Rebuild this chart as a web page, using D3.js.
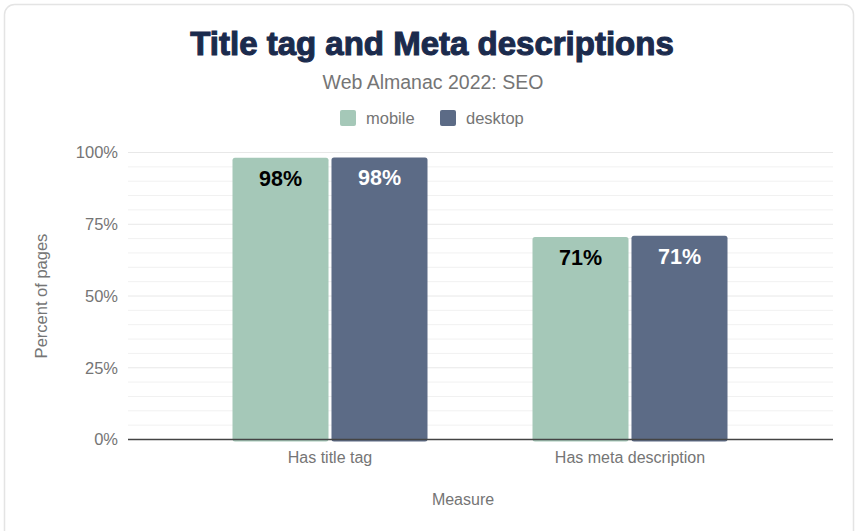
<!DOCTYPE html>
<html>
<head>
<meta charset="utf-8">
<script src="https://cdn.jsdelivr.net/npm/d3@7"></script>
<style>
  body { margin: 0; background: #fff; }
  svg { display: block; font-family: "Liberation Sans", Arial, sans-serif; }
</style>
</head>
<body>
<div id="chart"></div>
<script>
// data
const categories = ["Has title tag", "Has meta description"];
const seriesNames = ["mobile", "desktop"];
const mobileValues = [98.2, 70.6];
const desktopValues = [98.3, 71.0];
const yTicks = [0, 25, 50, 75, 100];

const colors = { mobile: "#a5c8b8", desktop: "#5c6b86" };
const labelColors = { mobile: "#000", desktop: "#fff" };

const W = 859, H = 531;
const margin = { top: 152.5, left: 128, right: 26, bottom: 91.5 };

const svg = d3.select("#chart").append("svg")
  .attr("width", W)
  .attr("height", H);

// card outline
svg.append("rect")
  .attr("x", 4.5).attr("y", 4.5)
  .attr("width", 849).attr("height", 600)
  .attr("rx", 10)
  .attr("fill", "#fff")
  .attr("stroke", "#e4e4e4")
  .attr("stroke-width", 1.5);

// titles (stroke makes the bold look heavier, like the original)
svg.append("text")
  .attr("x", 432).attr("y", 55)
  .attr("text-anchor", "middle")
  .attr("font-size", 33)
  .attr("font-weight", "bold")
  .attr("fill", "#1b2b4d")
  .attr("stroke", "#1b2b4d")
  .attr("stroke-width", 1.1)
  .text("Title tag and Meta descriptions");

svg.append("text")
  .attr("x", 433).attr("y", 89)
  .attr("text-anchor", "middle")
  .attr("font-size", 19.5)
  .attr("fill", "#757575")
  .text("Web Almanac 2022: SEO");

// legend
const legendX = [340, 440];
const legend = svg.append("g").attr("class", "legend");
seriesNames.forEach((s, i) => {
  legend.append("rect")
    .attr("x", legendX[i]).attr("y", 110)
    .attr("width", 16).attr("height", 16)
    .attr("rx", 2)
    .attr("fill", colors[s]);
  legend.append("text")
    .attr("x", legendX[i] + 26).attr("y", 124)
    .attr("font-size", 16.5)
    .attr("fill", "#757575")
    .text(s);
});

// scales
const x0 = d3.scaleBand()
  .domain(categories)
  .range([180, 780])
  .paddingInner(0.35)
  .paddingOuter(0.175);

const x1 = d3.scaleBand()
  .domain(seriesNames)
  .range([0, x0.bandwidth()])
  .paddingInner(0.03);

const y = d3.scaleLinear()
  .domain([0, 100])
  .range([H - margin.bottom, margin.top]);

// gridlines every 5%
const grid = svg.append("g").attr("class", "grid");
grid.selectAll("line")
  .data(d3.range(5, 101, 5))
  .join("line")
  .attr("x1", margin.left).attr("x2", W - margin.right)
  .attr("y1", d => y(d)).attr("y2", d => y(d))
  .attr("stroke", d => d % 25 === 0 ? "#e8e8e8" : "#f1f1f1")
  .attr("stroke-width", 1);

// y axis
const yAxis = svg.append("g")
  .attr("transform", `translate(${margin.left},0)`)
  .call(d3.axisLeft(y).tickValues(yTicks).tickFormat(d => d + "%").tickSize(0).tickPadding(10));
yAxis.select(".domain").remove();
yAxis.selectAll("text")
  .attr("font-size", 16.5)
  .attr("font-family", "Liberation Sans, Arial, sans-serif")
  .attr("fill", "#757575");

svg.append("text")
  .attr("transform", `translate(47,${y(50)}) rotate(-90)`)
  .attr("text-anchor", "middle")
  .attr("font-size", 16.5)
  .attr("fill", "#757575")
  .text("Percent of pages");

// bars
const rows = categories.map((c, i) => ({
  category: c,
  values: [
    { series: "mobile", value: mobileValues[i] },
    { series: "desktop", value: desktopValues[i] }
  ]
}));

const groups = svg.append("g").selectAll("g")
  .data(rows)
  .join("g")
  .attr("transform", d => `translate(${x0(d.category)},0)`);

groups.selectAll("rect")
  .data(d => d.values)
  .join("rect")
  .attr("x", d => x1(d.series))
  .attr("y", d => y(d.value))
  .attr("width", x1.bandwidth())
  .attr("height", d => y(0) - y(d.value) + 2)
  .attr("rx", 2.5)
  .attr("fill", d => colors[d.series]);

groups.selectAll("text")
  .data(d => d.values)
  .join("text")
  .attr("x", d => x1(d.series) + x1.bandwidth() / 2)
  .attr("y", d => y(d.value) + 28)
  .attr("text-anchor", "middle")
  .attr("font-size", 21.5)
  .attr("font-weight", "bold")
  .attr("fill", d => labelColors[d.series])
  .text(d => Math.round(d.value) + "%");

// baseline
svg.append("line")
  .attr("x1", margin.left).attr("x2", W - margin.right)
  .attr("y1", y(0)).attr("y2", y(0))
  .attr("stroke", "#444")
  .attr("stroke-width", 1.5);

// x axis labels
const xAxis = svg.append("g")
  .attr("transform", `translate(0,${y(0)})`)
  .call(d3.axisBottom(x0).tickSize(0).tickPadding(12));
xAxis.select(".domain").remove();
xAxis.selectAll("text")
  .attr("font-size", 16)
  .attr("font-family", "Liberation Sans, Arial, sans-serif")
  .attr("fill", "#757575");

svg.append("text")
  .attr("x", 463).attr("y", 505)
  .attr("text-anchor", "middle")
  .attr("font-size", 16)
  .attr("fill", "#757575")
  .text("Measure");
</script>
</body>
</html>
